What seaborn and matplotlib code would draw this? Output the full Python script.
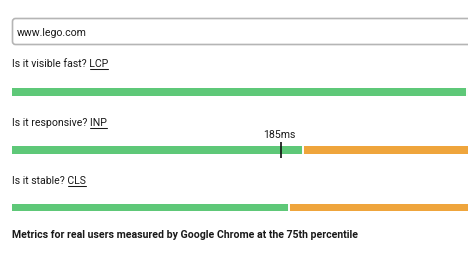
import matplotlib
matplotlib.use("Agg")
import matplotlib.pyplot as plt
import seaborn as sns
import pandas as pd
from matplotlib.patches import FancyBboxPatch

# ---- data ----
metrics = ["LCP", "INP", "CLS"]
questions = ["Is it visible fast?", "Is it responsive?", "Is it stable?"]
good_thresholds = [2500, 200, 0.1]
poor_thresholds = [4000, 500, 0.25]
p75_values = [None, 185, None]
p75_labels = [None, "185ms", None]
url_text = "www.lego.com"
footer_text = "Metrics for real users measured by Google Chrome at the 75th percentile"

# ---- style / layout ----
GREEN = "#5ec878"
ORANGE = "#efa53c"
TEXT = "#1a1a1a"
W, H = 468, 261
FONT = ["Roboto", "DejaVu Sans"]
FS = 7.6

sns.set_theme(style="white")
plt.rcParams["font.family"] = FONT

fig = plt.figure(figsize=(W / 100, H / 100), dpi=100)
fig.patch.set_facecolor("white")

bg = fig.add_axes([0, 0, 1, 1])
bg.set_xlim(0, W)
bg.set_ylim(H, 0)
bg.axis("off")

# input box
box = FancyBboxPatch((12.5, 18.5), 470, 26, boxstyle="round,pad=0,rounding_size=3",
                     facecolor="white", edgecolor="#b5b5b5", linewidth=1.2, clip_on=False)
bg.add_patch(box)
bg.text(17, 36, url_text, fontsize=FS, color=TEXT, va="baseline", ha="left")

label_baselines = [67.3, 126, 184]
bar_tops = [88, 146, 203.5]
bar_h = 7.5
left_px = 12
vis_px = W - left_px
good_px = [454.5, 290.7, 277.2]

fig.canvas.draw()
renderer = fig.canvas.get_renderer()

for i, m in enumerate(metrics):
    # label with underlined metric name
    t = bg.text(left_px, label_baselines[i], f"{questions[i]} {m}", fontsize=FS,
                color=TEXT, va="baseline", ha="left")
    tm = bg.text(0, 0, m, fontsize=FS, va="baseline", ha="left", alpha=0)
    bb = t.get_window_extent(renderer)
    bm = tm.get_window_extent(renderer)
    x1 = bb.x1
    x0 = bb.x1 - bm.width
    inv = bg.transData.inverted()
    (dx0, _), (dx1, _) = inv.transform([(x0, 0), (x1, 0)])
    bg.plot([dx0 + 0.3, dx1 - 0.3], [label_baselines[i] + 1.9] * 2, color=TEXT, lw=0.75)

    # bar axes
    xmax = good_thresholds[i] * vis_px / good_px[i]
    ax = fig.add_axes([left_px / W, 1 - (bar_tops[i] + bar_h) / H, vis_px / W, bar_h / H])
    df_poor = pd.DataFrame({"metric": [m], "value": [poor_thresholds[i]]})
    df_good = pd.DataFrame({"metric": [m], "value": [good_thresholds[i]]})
    sns.barplot(data=df_poor, x="value", y="metric", color=ORANGE, saturation=1,
                width=1, linewidth=0, ax=ax)
    sns.barplot(data=df_good, x="value", y="metric", color=GREEN, saturation=1,
                width=1, linewidth=0, ax=ax)
    ax.axvline(good_thresholds[i], color="white", lw=1.4)
    ax.set_xlim(0, xmax)
    ax.set_ylim(0.5, -0.5)
    ax.axis("off")

    if p75_values[i] is not None:
        ext = 4.5 / bar_h
        ax.plot([p75_values[i]] * 2, [-0.5 - ext, 0.5 + ext], color="#111111",
                lw=1.2, clip_on=False, solid_capstyle="butt")
        ax.annotate(p75_labels[i], xy=(p75_values[i], -0.5), xycoords="data",
                    xytext=(-2, 6), textcoords="offset pixels", ha="center",
                    va="bottom", fontsize=FS, color=TEXT, annotation_clip=False)

bg.text(left_px, 238, footer_text, fontsize=FS, fontweight="bold", color=TEXT,
        va="baseline", ha="left")

fig.savefig("out.png", dpi=100, facecolor="white")
